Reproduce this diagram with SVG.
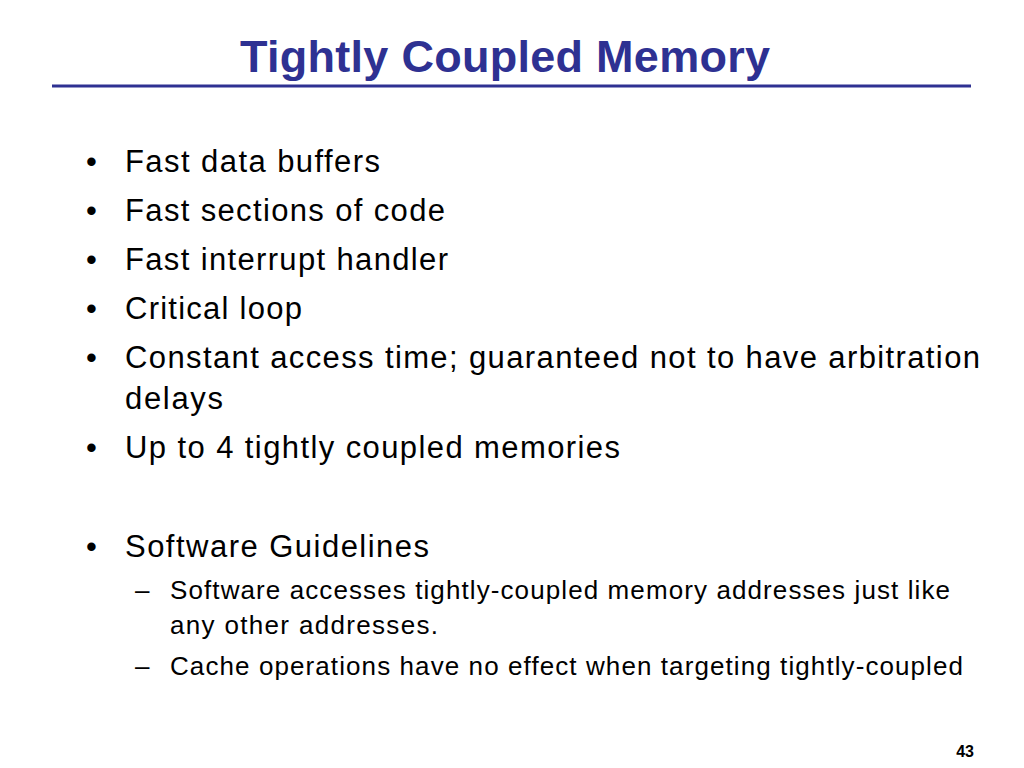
<svg xmlns="http://www.w3.org/2000/svg" width="1024" height="768" viewBox="0 0 1024 768">
<style>
.t{font-family:"Liberation Sans",Arial,sans-serif;fill:#000}
.b{font-size:31px}
.s{font-size:26px}
</style>
<rect width="1024" height="768" fill="#fff"/>
<text x="505" y="72" text-anchor="middle" font-family="Liberation Sans,Arial,sans-serif" font-weight="bold" font-size="45" fill="#2E3192" textLength="530">Tightly Coupled Memory</text>
<line x1="52" y1="86" x2="971" y2="86" stroke="#2E3192" stroke-width="3"/>
<g class="t b">
<text x="86" y="172">•</text><text x="125" y="172" textLength="255">Fast data buffers</text>
<text x="86" y="221">•</text><text x="125" y="221" textLength="320">Fast sections of code</text>
<text x="86" y="270">•</text><text x="125" y="270" textLength="323">Fast interrupt handler</text>
<text x="86" y="319">•</text><text x="125" y="319" textLength="177">Critical loop</text>
<text x="86" y="368">•</text><text x="125" y="368" textLength="855">Constant access time; guaranteed not to have arbitration</text>
<text x="125" y="409" textLength="98">delays</text>
<text x="86" y="458">•</text><text x="125" y="458" textLength="495">Up to 4 tightly coupled memories</text>
<text x="86" y="557">•</text><text x="125" y="557" textLength="304">Software Guidelines</text>
</g>
<g class="t s">
<text x="135" y="599">–</text><text x="170" y="599" textLength="780">Software accesses tightly-coupled memory addresses just like</text>
<text x="170" y="634" textLength="268">any other addresses.</text>
<text x="135" y="675">–</text><text x="170" y="675" textLength="793">Cache operations have no effect when targeting tightly-coupled</text>
</g>
<text x="974" y="757" text-anchor="end" font-family="Liberation Sans,Arial,sans-serif" font-weight="bold" font-size="16">43</text>
</svg>
